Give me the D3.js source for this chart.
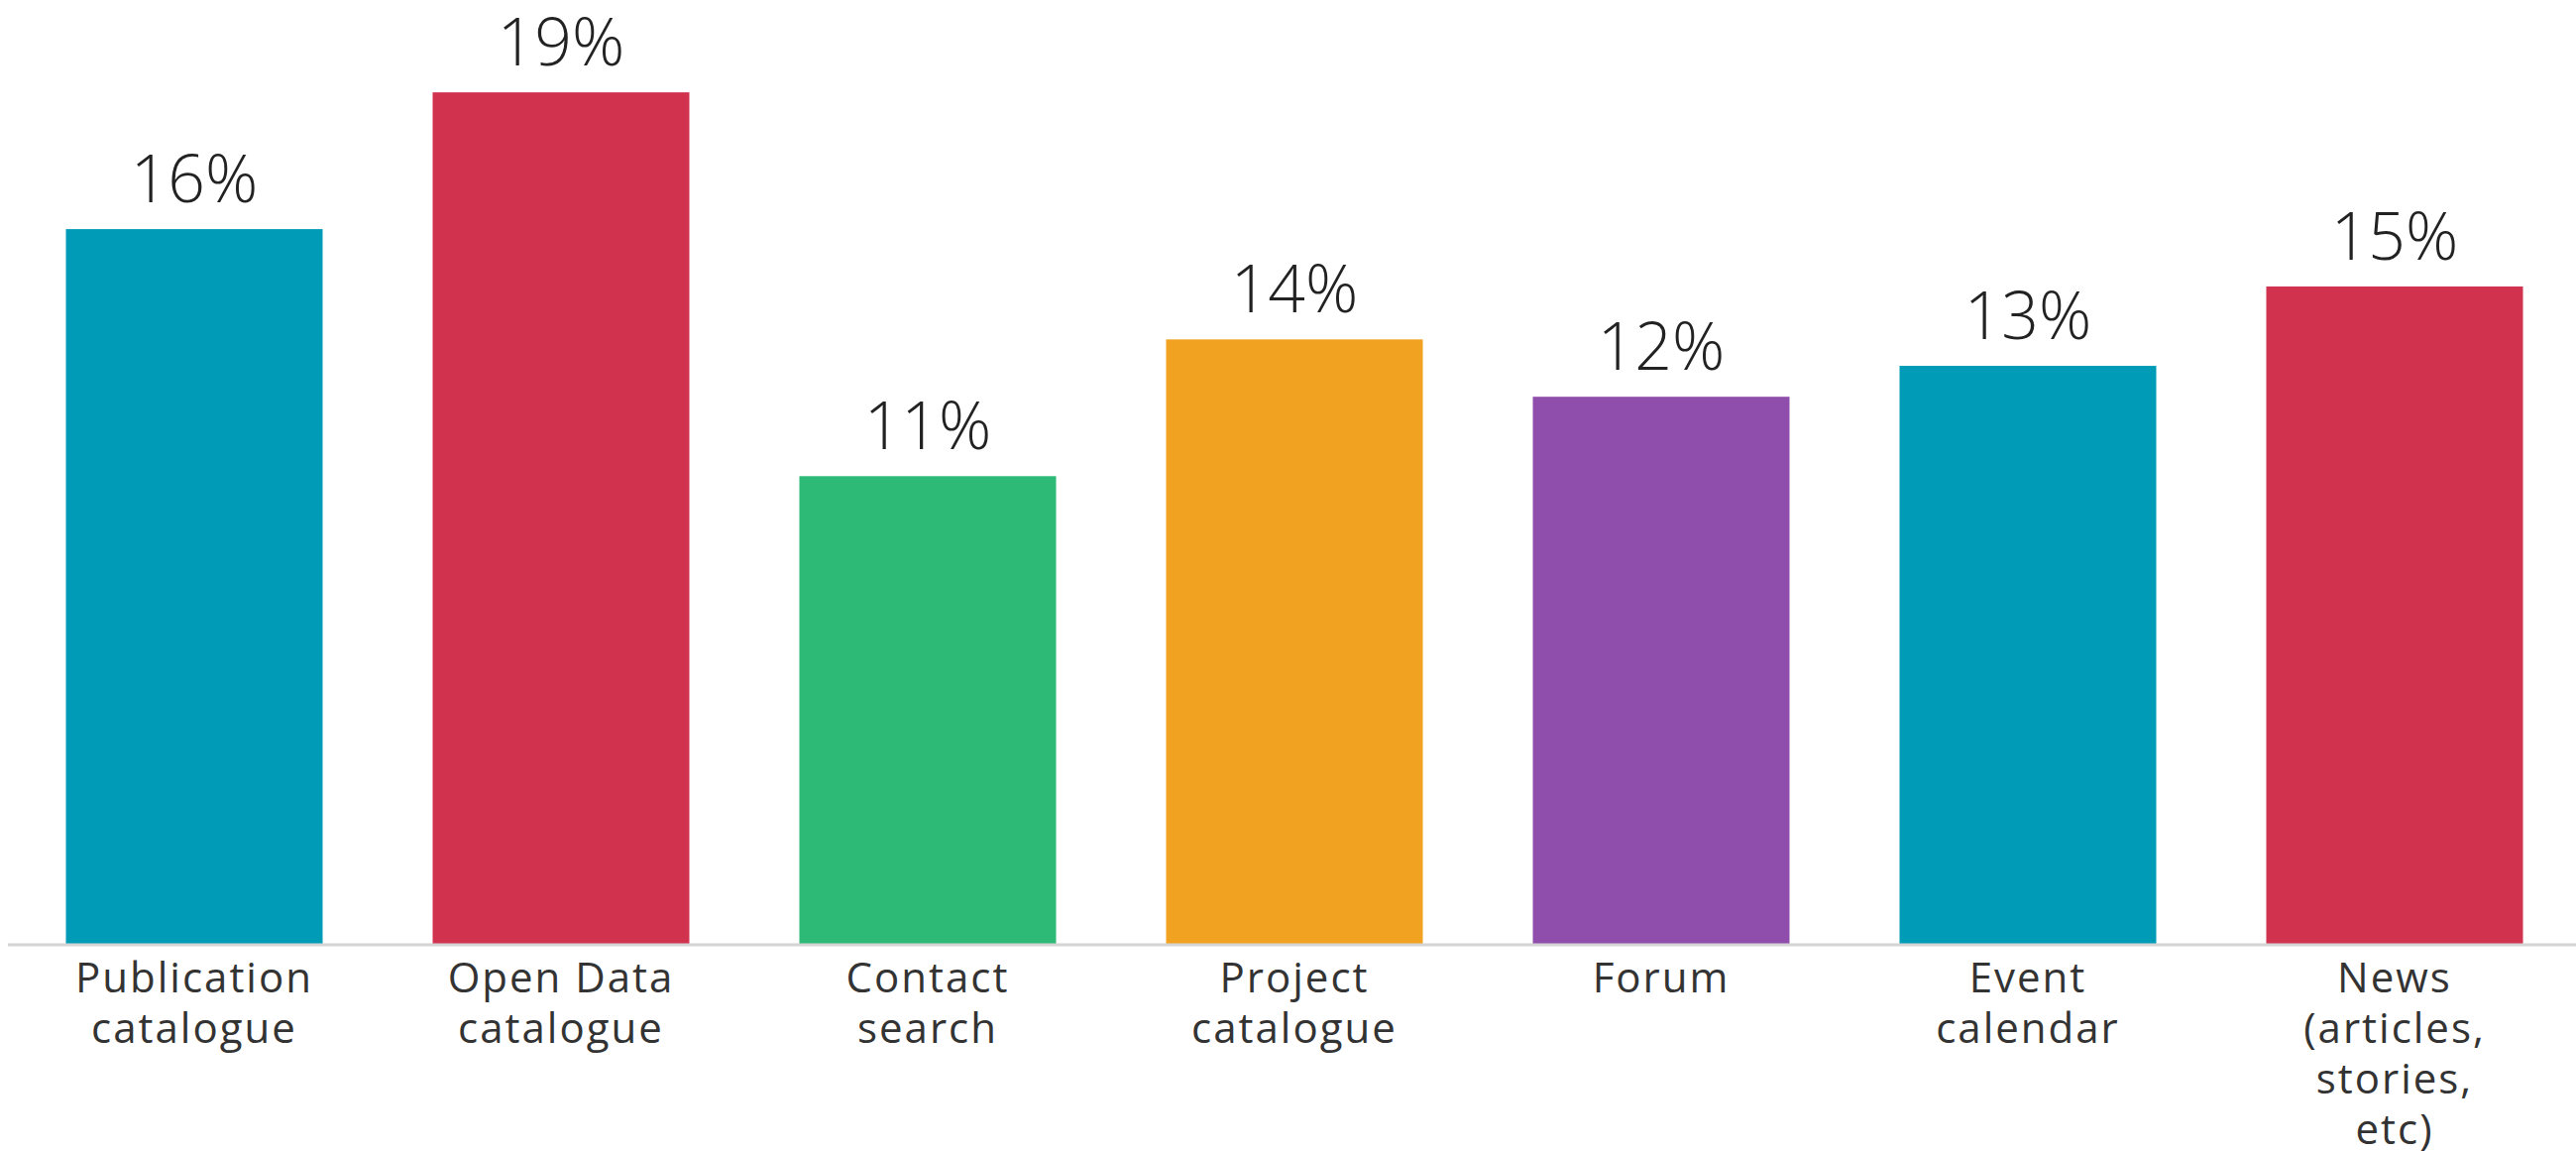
<!DOCTYPE html>
<html>
<head>
<meta charset="utf-8">
<script src="https://cdn.jsdelivr.net/npm/d3@7"></script>
<style>
  html, body { margin: 0; padding: 0; background: #fff; }
  svg { display: block; }
</style>
</head>
<body>
<svg id="chart" width="2599" height="1161"></svg>
<script>
// ---- data ----
const categories = [
  ["Publication", "catalogue"],
  ["Open Data", "catalogue"],
  ["Contact", "search"],
  ["Project", "catalogue"],
  ["Forum"],
  ["Event", "calendar"],
  ["News", "(articles,", "stories,", "etc)"]
];
const values = [16.2, 19.3, 10.6, 13.7, 12.4, 13.1, 14.9];
const valueLabels = ["16%", "19%", "11%", "14%", "12%", "13%", "15%"];
const colors = ["#009bb6", "#d1324e", "#2db976", "#f2a221", "#8f4dac", "#009bb6", "#d1324e"];

// ---- layout ----
const W = 2599, H = 1161;
const baseY = 952;
const svg = d3.select("#chart");

const x = d3.scaleBand()
  .domain(d3.range(categories.length))
  .range([11, 2601])
  .paddingInner(0.3)
  .paddingOuter(0.15);

const y = d3.scaleLinear()
  .domain([0, 20])
  .range([baseY, baseY - 20 * 44.5]);

// bars
svg.append("g").selectAll("rect")
  .data(values)
  .join("rect")
  .attr("x", (d, i) => x(i))
  .attr("y", d => y(d))
  .attr("width", x.bandwidth())
  .attr("height", d => y(0) - y(d))
  .attr("fill", (d, i) => colors[i]);

// baseline
svg.append("line")
  .attr("x1", 8).attr("x2", W)
  .attr("y1", baseY + 1).attr("y2", baseY + 1)
  .attr("stroke", "#d4d4d4")
  .attr("stroke-width", 3);

// value labels
svg.append("g").selectAll("text")
  .data(values)
  .join("text")
  .attr("x", (d, i) => x(i) + x.bandwidth() / 2)
  .attr("y", d => y(d) - 27)
  .attr("text-anchor", "middle")
  .attr("font-family", "'Open Sans', sans-serif")
  .attr("font-weight", 300)
  .attr("font-size", 66)
  .attr("fill", "#222")
  .text((d, i) => valueLabels[i]);

// category labels
const cat = svg.append("g").selectAll("text")
  .data(categories)
  .join("text")
  .attr("x", (d, i) => x(i) + x.bandwidth() / 2)
  .attr("y", 1001)
  .attr("text-anchor", "middle")
  .attr("font-family", "'Open Sans', sans-serif")
  .attr("font-weight", 400)
  .attr("font-size", 42)
  .attr("letter-spacing", 2)
  .attr("fill", "#333");

cat.each(function(lines, i) {
  const t = d3.select(this);
  const cx = x(i) + x.bandwidth() / 2;
  lines.forEach((ln, j) => {
    t.append("tspan")
      .attr("x", cx)
      .attr("dy", j === 0 ? 0 : 51)
      .text(ln);
  });
});
</script>
</body>
</html>
